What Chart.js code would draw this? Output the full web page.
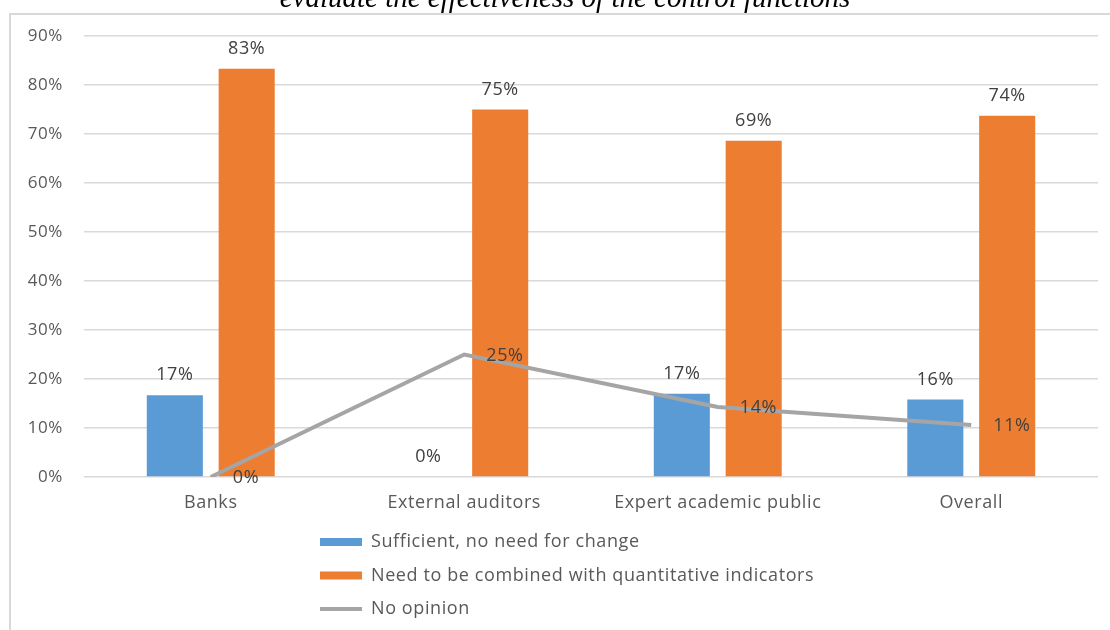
<!DOCTYPE html>
<html>
<head>
<meta charset="utf-8">
<script src="https://cdn.jsdelivr.net/npm/chart.js@4.4.1/dist/chart.umd.min.js"></script>
<style>
  body { margin: 0; background: #fff; overflow: hidden; }
  #wrap { position: relative; width: 1110px; height: 630px; overflow: hidden; }
  #frame { position: absolute; left: 9px; top: 13px; width: 1120px; height: 640px; border: 2px solid #d9d9d9; }
  #chart { position: absolute; left: 0; top: 0; }
</style>
</head>
<body>
<div id="wrap">
  <div id="frame"></div>
  <canvas id="chart" width="1110" height="630"></canvas>
</div>
<script>
const categories = ['Banks', 'External auditors', 'Expert academic public', 'Overall'];
const sufficient = [16.7, 0, 17.0, 15.8];
const combined = [83.3, 75.0, 68.6, 73.7];
const noOpinion = [0, 25.0, 14.3, 10.6];
const yTicks = [0, 10, 20, 30, 40, 50, 60, 70, 80, 90];

const titleText = 'evaluate the effectiveness of the control functions';
const labelFont = '18px "Open Sans"';
const textGray = '#595959';
const spacing = '0.6px';

// the reference text is a bit wider than Open Sans, so space letters a little
const spacingPlugin = {
  id: 'spacing',
  beforeUpdate(chart) { chart.ctx.letterSpacing = spacing; },
  beforeDraw(chart) { chart.ctx.letterSpacing = spacing; }
};

// title is cut at the top of the picture, so drawn by hand
const titlePlugin = {
  id: 'cutTitle',
  afterDraw(chart) {
    const ctx = chart.ctx;
    ctx.save();
    ctx.letterSpacing = '0px';
    ctx.font = 'italic 29px "Liberation Serif"';
    ctx.fillStyle = '#000';
    ctx.textAlign = 'center';
    ctx.textBaseline = 'alphabetic';
    ctx.fillText(titleText, 565, 7);
    ctx.restore();
  }
};

// value labels like Excel data labels
const valueLabels = {
  id: 'valueLabels',
  afterDatasetsDraw(chart) {
    const ctx = chart.ctx;
    ctx.save();
    ctx.font = labelFont;
    ctx.fillStyle = '#404040';
    ctx.textBaseline = 'middle';
    chart.data.datasets.forEach((ds, i) => {
      const meta = chart.getDatasetMeta(i);
      meta.data.forEach((el, j) => {
        const txt = Math.round(ds.data[j]) + '%';
        if (meta.type === 'line') {
          ctx.textAlign = 'left';
          ctx.fillText(txt, el.x + 22, el.y + 1);
        } else {
          ctx.textAlign = 'center';
          ctx.fillText(txt, el.x, el.y - 20);
        }
      });
    });
    ctx.restore();
  }
};

// vertical legend under the axis
const listLegend = {
  id: 'listLegend',
  afterDraw(chart) {
    const ctx = chart.ctx;
    ctx.save();
    ctx.font = labelFont;
    ctx.textBaseline = 'middle';
    ctx.textAlign = 'left';
    chart.data.datasets.forEach((ds, i) => {
      const y = 542 + i * 33.5;
      if (ds.type === 'line') {
        ctx.strokeStyle = ds.borderColor;
        ctx.lineWidth = 4;
        ctx.beginPath();
        ctx.moveTo(320, y);
        ctx.lineTo(362, y);
        ctx.stroke();
      } else {
        ctx.fillStyle = ds.backgroundColor;
        ctx.fillRect(320, y - 4, 42, 8);
      }
      ctx.fillStyle = textGray;
      ctx.fillText(ds.label, 371, y);
    });
    ctx.restore();
  }
};

new Chart(document.getElementById('chart').getContext('2d'), {
  data: {
    labels: categories,
    datasets: [
      {
        type: 'bar',
        label: 'Sufficient, no need for change',
        data: sufficient,
        backgroundColor: '#5b9bd5',
        order: 1,
        categoryPercentage: 0.567,
        barPercentage: 0.78
      },
      {
        type: 'bar',
        label: 'Need to be combined with quantitative indicators',
        data: combined,
        backgroundColor: '#ed7d31',
        order: 1,
        categoryPercentage: 0.567,
        barPercentage: 0.78
      },
      {
        type: 'line',
        label: 'No opinion',
        data: noOpinion,
        borderColor: '#a5a5a5',
        borderWidth: 4,
        pointRadius: 0,
        tension: 0,
        fill: false,
        order: 0
      }
    ]
  },
  options: {
    responsive: false,
    animation: false,
    devicePixelRatio: 1,
    layout: { padding: { top: 36, right: 12, left: 0, bottom: 0 } },
    plugins: {
      legend: { display: false },
      title: { display: false },
      tooltip: { enabled: false }
    },
    scales: {
      x: {
        grid: { display: false },
        border: { display: false },
        ticks: { color: textGray, font: { family: 'Open Sans', size: 18 }, padding: 7 },
        afterFit(scale) { scale.height = 153; }
      },
      y: {
        min: 0,
        max: 90,
        afterBuildTicks(scale) { scale.ticks = yTicks.map(v => ({ value: v })); },
        grid: { color: '#d9d9d9', lineWidth: 1.5, drawTicks: false },
        border: { display: false },
        ticks: {
          color: textGray,
          font: { family: 'Open Sans', size: 17 },
          padding: 21,
          callback: v => v + '%'
        },
        afterFit(scale) { scale.width = 84; }
      }
    }
  },
  plugins: [spacingPlugin, titlePlugin, valueLabels, listLegend]
});
</script>
</body>
</html>
